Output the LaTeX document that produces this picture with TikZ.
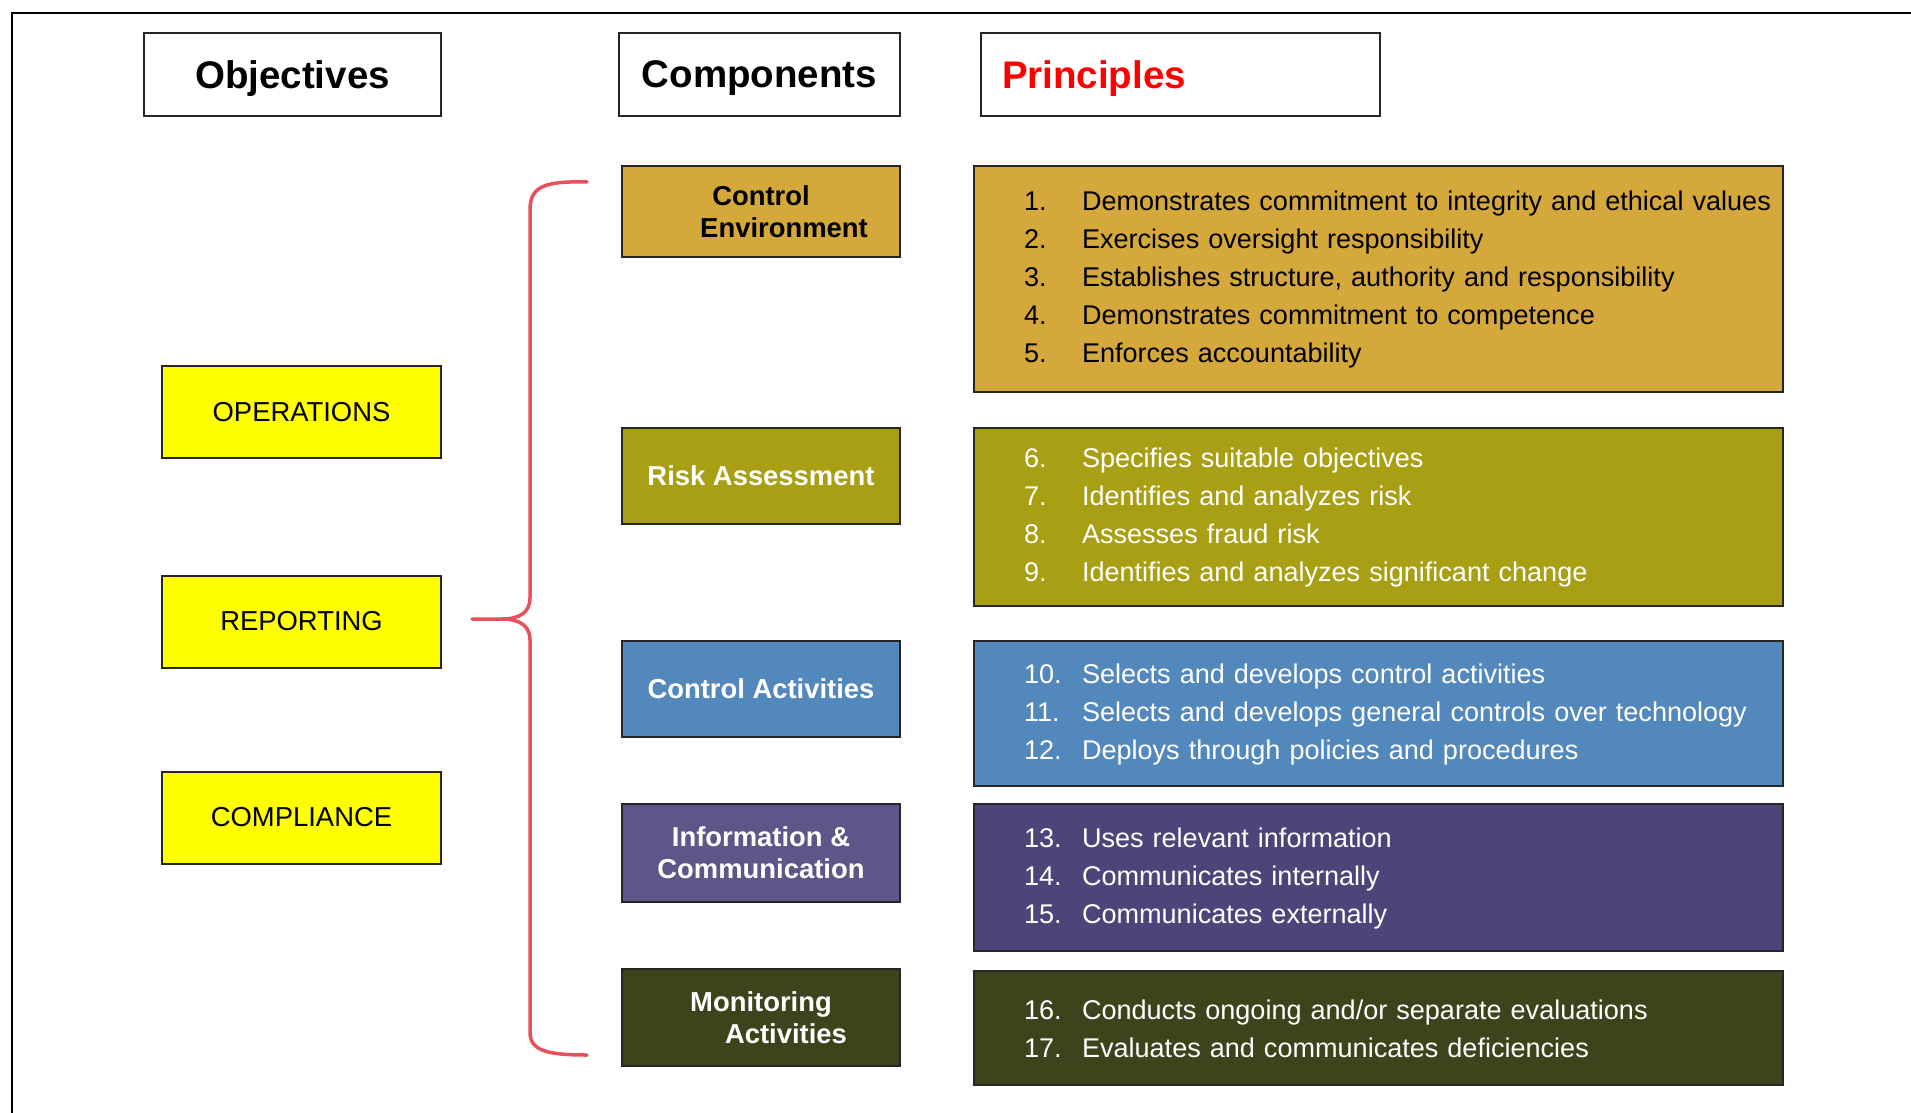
\documentclass[tikz,border=0pt]{standalone}
\usepackage{fontspec}
\setmainfont{Liberation Sans}
\usepackage{tikz}
\definecolor{boxline}{HTML}{262626}
\definecolor{objyellow}{HTML}{FFFF00}
\definecolor{envgold}{HTML}{D5A83C}
\definecolor{riskolive}{HTML}{A99F14}
\definecolor{actblue}{HTML}{5388BD}
\definecolor{infopurple}{HTML}{5E5589}
\definecolor{infodeep}{HTML}{4E4479}
\definecolor{monigreen}{HTML}{3E431C}
\definecolor{bracered}{HTML}{EA505A}
\newcommand{\prin}[2]{\hspace*{4mm}\makebox[5.8mm][l]{#1.}#2}

\begin{document}
\begin{tikzpicture}[x=0.1mm,y=-0.1mm,
  head/.style={draw=boxline,line width=0.28mm,fill=white,minimum height=8.3mm,text depth=0pt,
    font=\fontsize{10.95}{13}\selectfont\bfseries},
  objbox/.style={draw=boxline,line width=0.2mm,fill=objyellow,minimum width=27.9mm,
    minimum height=9.2mm,font=\fontsize{7.8}{9.1}\selectfont},
  compbox/.style={draw=boxline,line width=0.2mm,minimum width=27.8mm,minimum height=9.6mm,
    align=center,text=white,font=\fontsize{7.8}{9.1}\selectfont\bfseries},
  prinbox/.style={draw=boxline,line width=0.2mm,inner xsep=1mm,text width=78.9mm,
    execute at begin node=\rule{0pt}{2.1mm},
    align=left,text=white,font=\fontsize{7.7}{10.8}\selectfont},
  brace/.style={draw=bracered,line width=0.35mm,line cap=round}]
  \useasboundingbox (0,0) rectangle (1911,1113);
  \draw[line width=0.25mm] (12,1113) -- (12,13) -- (1911,13);

  % column heads
  \node[head,minimum width=29.7mm] (hobj) at (292.5,74.5) {Objectives};
  \node[head,minimum width=28.1mm] (hcomp) at (759.5,74.5) {Components};
  \node[head,inner xsep=2.1mm,text width=35.7mm,align=left,text=red] (hprin) at (1180.5,74.5) {Principles};

  % objectives
  \node[objbox] (ops) at (301.5,412) {OPERATIONS};
  \node[objbox] (rep) at (301.5,621.5) {REPORTING};
  \node[objbox] (cpl) at (301.5,817.5) {COMPLIANCE};

  % components
  \node[compbox,fill=envgold,text=black,minimum height=9.1mm] (env) at (761,211.5)
    {Control\\\hspace*{4.6mm}Environment};
  \node[compbox,fill=riskolive] (risk) at (761,476) {Risk Assessment};
  \node[compbox,fill=actblue] (act) at (761,689) {Control Activities};
  \node[compbox,fill=infopurple,minimum height=9.8mm] (info) at (761,853)
    {Information \&\\Communication};
  \node[compbox,fill=monigreen,minimum height=9.7mm] (moni) at (761,1017.5)
    {Monitoring\\\hspace*{5mm}Activities};

  % principles
  \node[prinbox,fill=envgold,text=black,minimum height=22.6mm] (penv) at (1378.5,279) {%
    \prin{1}{Demonstrates commitment to integrity and ethical values}\\
    \prin{2}{Exercises oversight responsibility}\\
    \prin{3}{Establishes structure, authority and responsibility}\\
    \prin{4}{Demonstrates commitment to competence}\\
    \prin{5}{Enforces accountability}};
  \node[prinbox,fill=riskolive,minimum height=17.8mm] (prisk) at (1378.5,517) {%
    \prin{6}{Specifies suitable objectives}\\
    \prin{7}{Identifies and analyzes risk}\\
    \prin{8}{Assesses fraud risk}\\
    \prin{9}{Identifies and analyzes significant change}};
  \node[prinbox,fill=actblue,minimum height=14.5mm] (pact) at (1378.5,713.5) {%
    \prin{10}{Selects and develops control activities}\\
    \prin{11}{Selects and develops general controls over technology}\\
    \prin{12}{Deploys through policies and procedures}};
  \node[prinbox,fill=infodeep,minimum height=14.7mm] (pinfo) at (1378.5,877.5) {%
    \prin{13}{Uses relevant information}\\
    \prin{14}{Communicates internally}\\
    \prin{15}{Communicates externally}};
  \node[prinbox,fill=monigreen,minimum height=11.4mm] (pmoni) at (1378.5,1028) {%
    \prin{16}{Conducts ongoing and/or separate evaluations}\\
    \prin{17}{Evaluates and communicates deficiencies}};

  % brace from the components to the objectives
  \coordinate (btop) at (587,182);
  \coordinate (bbot) at (587,1055);
  \coordinate (bmid) at (502,619);
  \coordinate (btip) at (472,619);
  \draw[brace] (btop) .. controls (545,181) and (530,186) .. (530,210) -- (530,598)
    .. controls (530,612) and (520,619) .. (bmid) -- (btip);
  \draw[brace] (bmid) .. controls (520,619) and (530,626) .. (530,640) -- (530,1032)
    .. controls (530,1050) and (545,1055) .. (bbot);
\end{tikzpicture}
\end{document}
